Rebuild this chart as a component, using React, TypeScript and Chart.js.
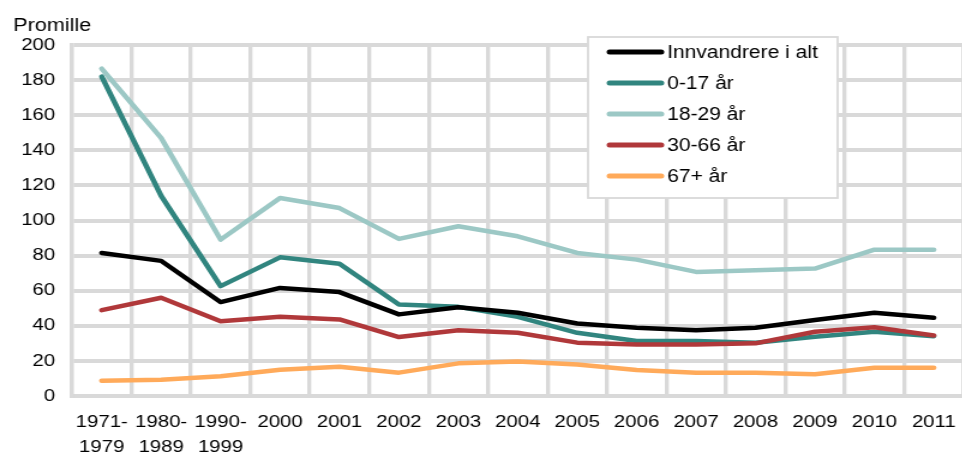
import React, { useEffect, useRef } from "react";
import { Chart, registerables } from "chart.js";

Chart.register(...registerables);

// ---- Data ----
const categories: (string | string[])[] = [
  ["1971-", "1979"],
  ["1980-", "1989"],
  ["1990-", "1999"],
  "2000", "2001", "2002", "2003", "2004", "2005", "2006", "2007", "2008", "2009", "2010", "2011",
];

const seriesNames = ["Innvandrere i alt", "0-17 år", "18-29 år", "30-66 år", "67+ år"];

const totalValues = [81.5, 77, 53.5, 61.6, 59.2, 46.5, 50.6, 47.4, 41.3, 38.9, 37.5, 38.9, 43.3, 47.4, 44.6];
const age0to17 = [182, 114, 62.6, 79, 75.3, 52.1, 50.8, 45.1, 36, 31.3, 31.3, 30.4, 33.8, 36.6, 34.1];
const age18to29 = [186.5, 147, 89.1, 112.8, 107.1, 89.5, 96.7, 91, 81.5, 77.7, 70.7, 71.7, 72.6, 83.4, 83.4];
const age30to66 = [48.9, 56, 42.6, 45.1, 43.6, 33.6, 37.5, 36, 30.4, 29.4, 29.4, 30, 36.6, 39.2, 34.5];
const age67plus = [8.7, 9.2, 11.2, 15, 16.7, 13.3, 18.6, 19.6, 18, 14.8, 13.3, 13.3, 12.4, 16.1, 16.1];

const seriesValues = [totalValues, age0to17, age18to29, age30to66, age67plus];
const seriesColors = ["#000000", "#31857f", "#9cc8c5", "#b0383a", "#ffaa5a"];
const seriesOrder = [0, 4, 3, 1, 2];

const yTitle = "Promille";

// ---- Layout constants ----
const STRETCH = 1.2; // horizontal stretch of the whole picture
const FONT = "'Liberation Sans', Arial, Helvetica, sans-serif";
const GRID = "#d9d9d9";

const legendPlugin = {
  id: "insideLegend",
  afterDatasetsDraw(chart: any) {
    const ctx = chart.ctx as CanvasRenderingContext2D;
    ctx.save();
    const left = 490, top = 37, w = 208, h = 161;
    ctx.fillStyle = "#ffffff";
    ctx.fillRect(left, top, w, h);
    ctx.strokeStyle = GRID;
    ctx.lineWidth = 1.8;
    ctx.strokeRect(left, top, w, h);
    seriesNames.forEach((name, i) => {
      const y = 52 + i * 31;
      ctx.strokeStyle = seriesColors[i];
      ctx.lineWidth = 5;
      ctx.lineCap = "round";
      ctx.beginPath();
      ctx.moveTo(508, y);
      ctx.lineTo(551, y);
      ctx.stroke();
      ctx.fillStyle = "#000";
      ctx.font = `17.5px ${FONT}`;
      ctx.textAlign = "left";
      ctx.textBaseline = "middle";
      ctx.fillText(name, 556, y + 1.5);
    });
    ctx.restore();
  },
  afterDraw(chart: any) {
    const ctx = chart.ctx as CanvasRenderingContext2D;
    ctx.save();
    ctx.fillStyle = "#000";
    ctx.font = `18px ${FONT}`;
    ctx.textAlign = "left";
    ctx.textBaseline = "alphabetic";
    ctx.fillText(yTitle, 11, 31);
    ctx.restore();
  },
};

export default function App() {
  const canvasRef = useRef<HTMLCanvasElement | null>(null);

  useEffect(() => {
    if (!canvasRef.current) return;
    const chart = new Chart(canvasRef.current, {
      type: "line",
      data: {
        labels: categories as any,
        datasets: seriesNames.map((name, i) => ({
          label: name,
          data: seriesValues[i],
          borderColor: seriesColors[i],
          backgroundColor: seriesColors[i],
          borderWidth: 4.5,
          pointRadius: 0,
          pointHoverRadius: 0,
          tension: 0,
          fill: false,
          borderCapStyle: "round" as const,
          borderJoinStyle: "round" as const,
          order: seriesOrder[i],
        })),
      },
      options: {
        animation: false,
        responsive: false,
        devicePixelRatio: 1,
        layout: { padding: { top: 45, right: 2, left: 0, bottom: 0 } },
        plugins: {
          legend: { display: false },
          tooltip: { enabled: false },
        },
        scales: {
          x: {
            type: "category",
            offset: true,
            grid: {
              color: GRID,
              lineWidth: 4 / STRETCH,
              offset: true,
              drawTicks: false,
            },
            border: { color: GRID, width: 4 },
            ticks: {
              color: "#000",
              font: { family: FONT, size: 17, lineHeight: "25px" } as any,
              padding: 13.5,
              maxRotation: 0,
              minRotation: 0,
              autoSkip: false,
            },
            afterFit: (s: any) => {
              s.height = 62;
            },
          },
          y: {
            min: 0,
            max: 200,
            ticks: {
              stepSize: 20,
              color: "#000",
              font: { family: FONT, size: 17 },
              padding: 14,
            },
            grid: { color: GRID, lineWidth: 4, drawTicks: false },
            border: { color: GRID, width: 4 / STRETCH },
            afterFit: (s: any) => {
              s.width = 60;
            },
          },
        },
      },
      plugins: [legendPlugin],
    });
    return () => chart.destroy();
  }, []);

  return (
    <div
      style={{
        position: "fixed",
        left: 0,
        top: 0,
        width: 962,
        height: 458,
        overflow: "hidden",
        background: "#fff",
      }}
    >
      <div
        style={{
          width: 810,
          height: 458,
          transform: `scaleX(${STRETCH})`,
          transformOrigin: "0 0",
        }}
      >
        <canvas ref={canvasRef} width={810} height={458} />
      </div>
    </div>
  );
}
